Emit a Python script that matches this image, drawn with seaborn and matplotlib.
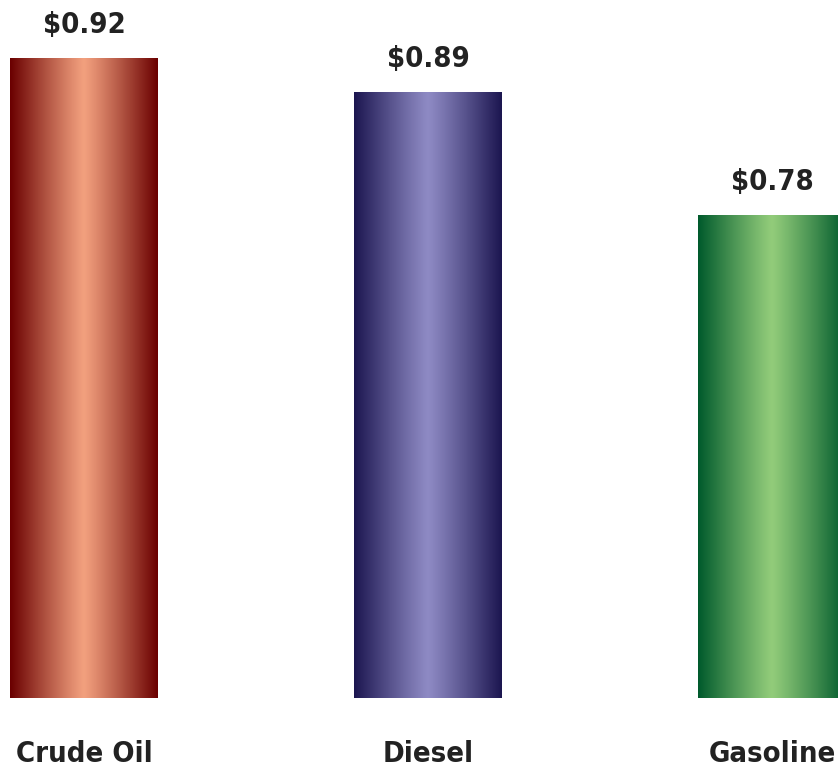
import numpy as np
import matplotlib
matplotlib.use("Agg")
import matplotlib.pyplot as plt
import seaborn as sns
from matplotlib.colors import LinearSegmentedColormap

categories = ["Crude Oil", "Diesel", "Gasoline"]
values = [0.92, 0.89, 0.78]
labels = ["$0.92", "$0.89", "$0.78"]
# edge colour, centre colour for each bar
bar_colors = [("#6a0000", "#f2a07e"), ("#1c1650", "#8e8ac4"), ("#005a2c", "#92cc7a")]

sns.set_theme(style="white")
plt.rcParams["font.family"] = ["DejaVu Sans"]
plt.rcParams["font.stretch"] = "condensed"

fig = plt.figure(figsize=(8.38, 7.72), dpi=100)
ax = fig.add_axes([0, 74 / 772, 1, 698 / 772])

sns.barplot(x=categories, y=values, ax=ax, width=0.43, color="white", saturation=1)

base = 0.35
ax.set_xlim(-0.244, 2.192)
ax.set_ylim(base, 0.972)

# horizontal gradient: dark edges, light centre
grad = 1 - np.abs(np.linspace(-1, 1, 256)) ** 1.1
for patch, (edge, mid), lab in zip(ax.patches, bar_colors, labels):
    x0, y0 = patch.get_x(), patch.get_y()
    w, h = patch.get_width(), patch.get_height()
    cmap = LinearSegmentedColormap.from_list("g", [edge, mid])
    im = ax.imshow(grad[np.newaxis, :], cmap=cmap, aspect="auto",
                   extent=[x0, x0 + w, base, y0 + h], zorder=2)
    im.set_clip_path(patch)
    patch.set_facecolor("none")
    patch.set_edgecolor("none")
    ax.annotate(lab, (x0 + w / 2, y0 + h), xytext=(0, 14), textcoords="offset points",
                ha="center", va="bottom", fontsize=21, fontweight="bold",
                fontstretch="condensed", color="#222222", annotation_clip=False)

ax.set_xlim(-0.244, 2.192)
ax.set_ylim(base, 0.972)
ax.set_yticks([])
ax.tick_params(axis="x", length=0, pad=30)
for t in ax.get_xticklabels():
    t.set_fontsize(21)
    t.set_fontweight("bold")
    t.set_fontstretch("condensed")
    t.set_color("#222222")
sns.despine(ax=ax, left=True, bottom=True)
ax.set_xlabel("")
ax.set_ylabel("")

fig.savefig("out.png", dpi=100)
